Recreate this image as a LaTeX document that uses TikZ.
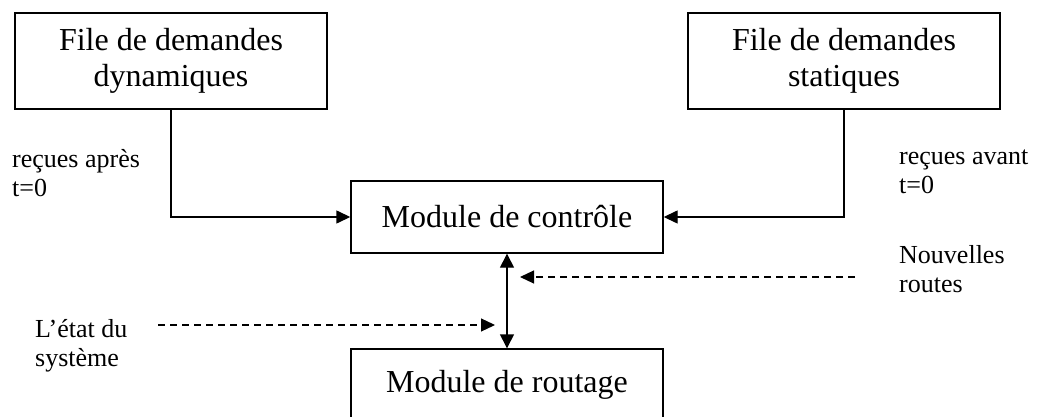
\documentclass[tikz,border=0pt]{standalone}
\usepackage{fontspec}
\setmainfont{Liberation Serif}
\usetikzlibrary{arrows.meta}
\definecolor{flowink}{RGB}{0,0,0}
\tikzset{
  queuebox/.style={draw=flowink, line width=1.4pt, minimum width=312pt,
    minimum height=96pt, inner sep=0pt, align=center,
    font=\fontsize{32}{36}\selectfont},
  modulebox/.style={queuebox, minimum height=72pt},
  flowarrow/.style={-{Triangle[length=14pt, width=13pt]}, line width=1.4pt, flowink},
  botharrow/.style={{Triangle[length=14pt, width=14pt]}-{Triangle[length=14pt, width=14pt]},
    line width=1.4pt, flowink},
  infoarrow/.style={-{Triangle[length=14pt, width=13pt]}, line width=1.2pt,
    dash pattern=on 7pt off 5pt, flowink},
  sidelabel/.style={anchor=north west, inner sep=0pt, align=left,
    font=\fontsize{26}{29}\selectfont},
}

\begin{document}
\begin{tikzpicture}[x=1pt, y=-1pt]
  \clip (0,0) rectangle (1037,417);
  \node[queuebox] (dyn) at (171,61) {File de demandes\\dynamiques};
  \node[queuebox] (stat) at (844,61) {File de demandes\\statiques};
  \node[modulebox] (ctrl) at (507,217) {Module de contrôle};
  \node[modulebox] (rout) at (507,385) {Module de routage};
  \node[sidelabel] (after) at (12,149) {reçues après\\t=0};
  \node[sidelabel] (before) at (899,150) {reçues avant\\t=0};
  \node[sidelabel] (routes) at (899,245) {Nouvelles\\routes};
  \node[sidelabel] (state) at (35,319) {L’état du\\système};
  \coordinate (routesin) at (855,277);
  \coordinate (routesout) at (520,277);
  \coordinate (statein) at (158,325);
  \coordinate (stateout) at (495,325);
  \draw[flowarrow] (dyn.south) |- (ctrl.west);
  \draw[flowarrow] (stat.south) |- (ctrl.east);
  \draw[botharrow] (ctrl) -- (rout);
  \draw[infoarrow] (routesin) -- (routesout);
  \draw[infoarrow] (statein) -- (stateout);
\end{tikzpicture}
\end{document}
